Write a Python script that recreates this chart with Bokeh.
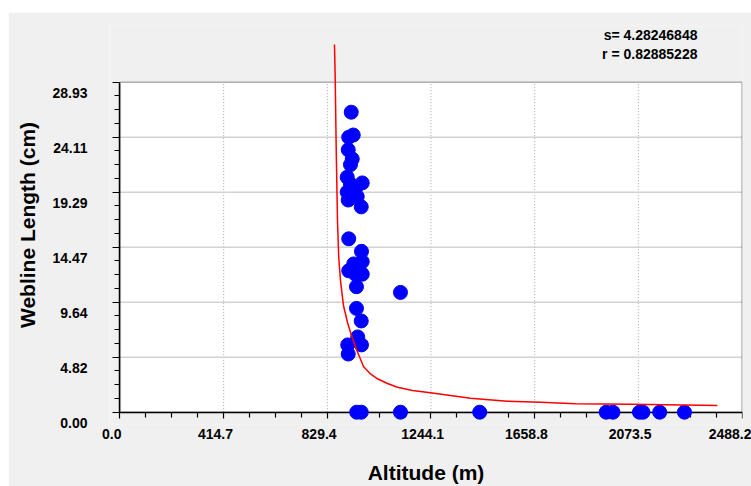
from bokeh.plotting import figure
from bokeh.models import (Range1d, LinearAxis, FixedTicker, BoxAnnotation, Label,
                          PrintfTickFormatter)
from bokeh.embed import file_html
from bokeh.resources import INLINE

# ---------------- data ----------------
alt_m = [925, 915, 933, 913, 929, 922, 909, 922, 969, 942, 909, 949, 913, 965,
         915, 966, 969, 935, 915, 942, 969, 946, 1122, 946, 965, 951, 966, 911, 913,
         947, 965, 1122, 1439, 1945, 1972, 2078, 2092, 2159, 2258]
length_cm = [26.3, 24.1, 24.3, 23.0, 22.2, 21.7, 20.6, 20.0, 20.1, 19.6, 19.3, 18.9, 18.6, 18.0,
             15.2, 14.1, 13.2, 13.0, 12.4, 12.1, 12.1, 11.0, 10.5, 9.1, 8.0, 6.6, 5.9, 5.9, 5.1,
             0.0, 0.0, 0.0, 0.0, 0.0, 0.0, 0.0, 0.0, 0.0, 0.0]

curve_alt_m = [858, 861, 865, 870, 875, 882, 894, 910, 926, 946, 974, 1002, 1030, 1070,
               1110, 1170, 1242, 1322, 1402, 1549, 1682, 1822, 2042, 2390]
curve_length_cm = [32.24, 29.09, 22.95, 16.81, 13.56, 11.54, 9.35, 7.86, 6.72, 5.49, 4.01, 3.35,
                   2.93, 2.52, 2.19, 1.90, 1.70, 1.46, 1.23, 0.96, 0.88, 0.74, 0.69, 0.59]

x_ticks = [0.0, 414.7, 829.4, 1244.1, 1658.8, 2073.5, 2488.2]
x_tick_labels = ["0.0", "414.7", "829.4", "1244.1", "1658.8", "2073.5", "2488.2"]
y_ticks = [0.0, 4.82, 9.64, 14.47, 19.29, 24.11, 28.93]
y_tick_labels = ["0.00", "4.82", "9.64", "14.47", "19.29", "24.11", "28.93"]

stat_lines = ["s= 4.28246848", "r = 0.82885228"]
x_title = "Altitude (m)"
y_title = "Webline Length (cm)"

# ---------------- styling ----------------
GRAY = "#f0f0f0"
TICK_FONT = "Liberation Sans"
X_MAX, Y_MAX = x_ticks[-1], y_ticks[-1]
X_LABEL_SHIFT = -33.0   # tick labels sit a little left of their ticks
Y_LABEL_SHIFT = -0.96   # and a little below their ticks


def minors(ticks, n=4):
    out = []
    for a, b in zip(ticks[:-1], ticks[1:]):
        out += [a + (b - a) * k / n for k in range(1, n)]
    return out


p = figure(width=743, height=474,
           x_range=Range1d(-42, 2490.2), y_range=Range1d(-1.078, 33.9),
           x_axis_type=None, y_axis_type=None,
           output_backend="svg", toolbar_location=None,
           min_border_left=101, min_border_right=9, min_border_top=13, min_border_bottom=62,
           background_fill_color=GRAY, border_fill_color=GRAY, outline_line_color=None,
           margin=(12, 0, 0, 8))

# white plot area
p.quad(left=[x_ticks[0]], right=[X_MAX], bottom=[y_ticks[0]], top=[Y_MAX],
       fill_color="white", line_color=None, level="image")

# grid lines (restricted to the plot area)
p.segment(x0=x_ticks[1:-1], y0=[y_ticks[0]] * 5, x1=x_ticks[1:-1], y1=[Y_MAX] * 5,
          line_color="#a4a4a4", line_width=1, line_dash="1 2", level="image")
p.segment(x0=[x_ticks[0]] * 5, y0=y_ticks[1:-1], x1=[X_MAX] * 5, y1=y_ticks[1:-1],
          line_color="#d2d2d2", line_width=1.5, level="image")

# frame border
p.add_layout(BoxAnnotation(left=x_ticks[0], right=X_MAX, bottom=y_ticks[0], top=Y_MAX,
                           fill_color=None, fill_alpha=0, line_color="black", line_width=1.5))

# axis lines + tick marks (drawn exactly at x=0 / y=0)
ytick_axis = LinearAxis(ticker=FixedTicker(ticks=y_ticks, minor_ticks=minors(y_ticks)),
                        fixed_location=0, bounds=(0, Y_MAX),
                        formatter=PrintfTickFormatter(format=""),
                        major_label_text_font_size="0px", major_label_standoff=0,
                        axis_line_color="black", axis_line_width=1.5,
                        major_tick_in=7, major_tick_out=0, minor_tick_in=5, minor_tick_out=0,
                        major_tick_line_color="black", minor_tick_line_color="black",
                        major_tick_line_width=1.2, minor_tick_line_width=1.2)
p.add_layout(ytick_axis, "right")

xtick_axis = LinearAxis(ticker=FixedTicker(ticks=x_ticks, minor_ticks=minors(x_ticks)),
                        fixed_location=0, bounds=(0, X_MAX),
                        formatter=PrintfTickFormatter(format=""),
                        major_label_text_font_size="0px", major_label_standoff=0,
                        axis_line_color="black", axis_line_width=1.5,
                        major_tick_in=6, major_tick_out=0, minor_tick_in=5, minor_tick_out=0,
                        major_tick_line_color="black", minor_tick_line_color="black",
                        major_tick_line_width=1.2, minor_tick_line_width=1.2)
p.add_layout(xtick_axis, "above")

# tick labels + titles
y_lab_pos = [t + Y_LABEL_SHIFT for t in y_ticks]
ylab_axis = LinearAxis(ticker=FixedTicker(ticks=y_lab_pos, minor_ticks=[]),
                       bounds=(-1.0, 32.3),
                       major_label_overrides=dict(zip(y_lab_pos, y_tick_labels)),
                       axis_line_color=None, major_tick_line_color=None, minor_tick_line_color=None,
                       major_tick_in=0, major_tick_out=0, minor_tick_in=0, minor_tick_out=0,
                       major_label_standoff=22,
                       major_label_text_font=TICK_FONT, major_label_text_font_size="14px",
                       major_label_text_font_style="bold", major_label_text_color="black",
                       axis_label=y_title, axis_label_standoff=10,
                       axis_label_text_font=TICK_FONT, axis_label_text_font_size="21px",
                       axis_label_text_font_style="bold", axis_label_text_color="black")
p.add_layout(ylab_axis, "left")

x_lab_pos = [t + X_LABEL_SHIFT for t in x_ticks]
xlab_axis = LinearAxis(ticker=FixedTicker(ticks=x_lab_pos, minor_ticks=[]),
                       major_label_overrides=dict(zip(x_lab_pos, x_tick_labels)),
                       axis_line_color=None, major_tick_line_color=None, minor_tick_line_color=None,
                       major_tick_in=0, major_tick_out=0, minor_tick_in=0, minor_tick_out=0,
                       major_label_standoff=4,
                       major_label_text_font=TICK_FONT, major_label_text_font_size="14px",
                       major_label_text_font_style="bold", major_label_text_color="black",
                       axis_label=x_title, axis_label_standoff=19,
                       axis_label_text_font=TICK_FONT, axis_label_text_font_size="21px",
                       axis_label_text_font_style="bold", axis_label_text_color="black")
p.add_layout(xlab_axis, "below")

# data
p.scatter(alt_m, length_cm, size=14, fill_color="#0000ff", line_color="#0000ff", level="overlay")
p.line(curve_alt_m, curve_length_cm, line_color="#ff0000", line_width=1.5, level="overlay")

# statistics text
for txt, yv in zip(stat_lines, [33.08, 31.42]):
    p.add_layout(Label(x=2310, y=yv, text=txt, text_align="right", text_baseline="middle",
                       text_font=TICK_FONT, text_font_size="14px", text_font_style="bold",
                       text_color="black"))

open("out.html", "w").write(file_html(p, INLINE))
